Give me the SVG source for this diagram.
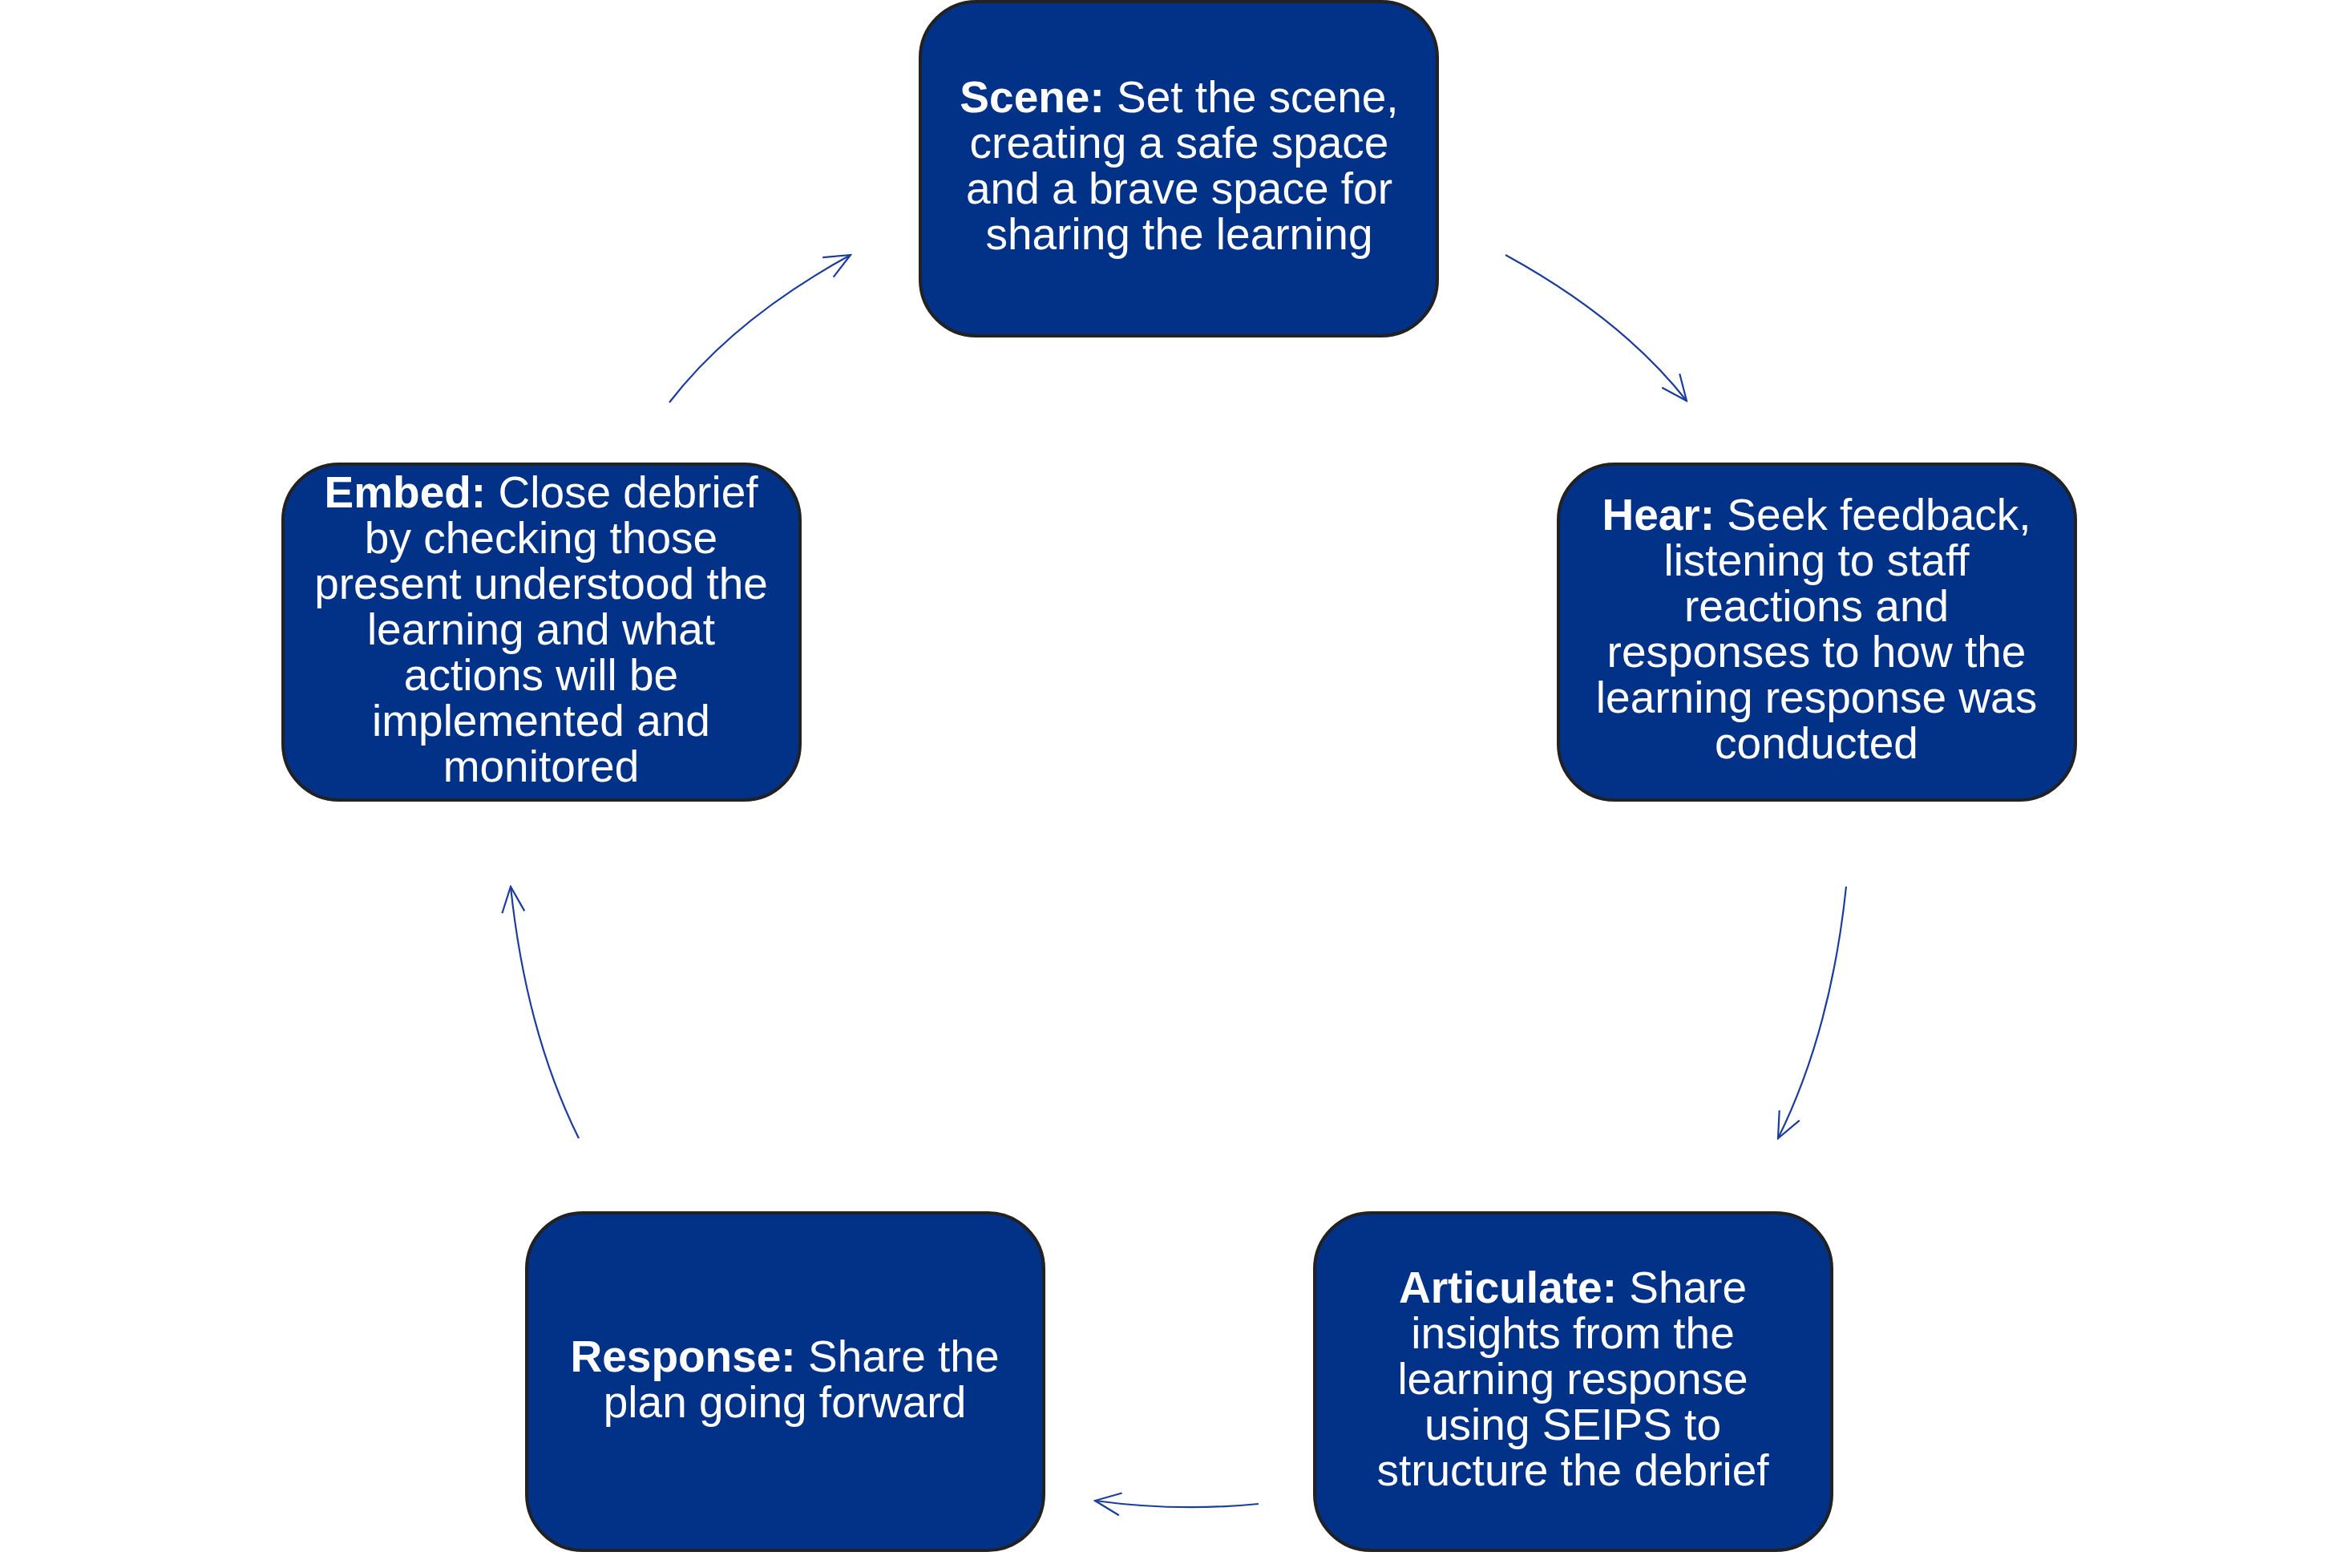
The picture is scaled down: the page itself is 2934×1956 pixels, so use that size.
<svg xmlns="http://www.w3.org/2000/svg" width="2934" height="1956" viewBox="0 0 2934 1956">
<style>
.box{fill:#023188;stroke:#222;stroke-width:4}
text{font-family:"Liberation Sans",Arial,sans-serif;font-size:55px;fill:#fff;text-anchor:middle}
.b{font-weight:bold}
.c{fill:none;stroke:#1b3d9c;stroke-width:2.2}
</style>
<defs>
<marker id="ah2" viewBox="0 0 40 40" refX="38" refY="20" markerWidth="40" markerHeight="40" markerUnits="userSpaceOnUse" orient="auto">
<path d="M6,6 L38,20 L6,34" fill="none" stroke="#1b3d9c" stroke-width="2.2"/>
</marker>
</defs>
<rect width="2934" height="1956" fill="#fff"/>
<g id="connectors">
<path class="c" d="M1878,318 Q2024,398 2104,500" marker-end="url(#ah2)"/>
<path class="c" d="M2303,1106 Q2284,1287 2218,1420" marker-end="url(#ah2)"/>
<path class="c" d="M1570,1876 Q1468,1886 1366,1872" marker-end="url(#ah2)"/>
<path class="c" d="M722,1420 Q656,1287 637,1106" marker-end="url(#ah2)"/>
<path class="c" d="M835,502 Q915,398 1061,318" marker-end="url(#ah2)"/>
</g>
<g id="scene">
<rect class="box" x="1148" y="2" width="645" height="417" rx="70"/>
<text x="1471" y="140"><tspan class="b">Scene:</tspan> Set the scene,</text>
<text x="1471" y="197">creating a safe space</text>
<text x="1471" y="254">and a brave space for</text>
<text x="1471" y="311">sharing the learning</text>
</g>
<g id="hear">
<rect class="box" x="1944" y="579" width="645" height="419" rx="70"/>
<text x="2266" y="661"><tspan class="b">Hear:</tspan> Seek feedback,</text>
<text x="2266" y="718">listening to staff</text>
<text x="2266" y="775">reactions and</text>
<text x="2266" y="832">responses to how the</text>
<text x="2266" y="889">learning response was</text>
<text x="2266" y="946">conducted</text>
</g>
<g id="articulate">
<rect class="box" x="1640" y="1513" width="645" height="421" rx="70"/>
<text x="1962" y="1625"><tspan class="b">Articulate:</tspan> Share</text>
<text x="1962" y="1682">insights from the</text>
<text x="1962" y="1739">learning response</text>
<text x="1962" y="1796">using SEIPS to</text>
<text x="1962" y="1853">structure the debrief</text>
</g>
<g id="response">
<rect class="box" x="657" y="1513" width="645" height="421" rx="70"/>
<text x="979" y="1711"><tspan class="b">Response:</tspan> Share the</text>
<text x="979" y="1768">plan going forward</text>
</g>
<g id="embed">
<rect class="box" x="353" y="579" width="645" height="419" rx="70"/>
<text x="675" y="633"><tspan class="b">Embed:</tspan> Close debrief</text>
<text x="675" y="690">by checking those</text>
<text x="675" y="747">present understood the</text>
<text x="675" y="804">learning and what</text>
<text x="675" y="861">actions will be</text>
<text x="675" y="918">implemented and</text>
<text x="675" y="975">monitored</text>
</g>
</svg>
